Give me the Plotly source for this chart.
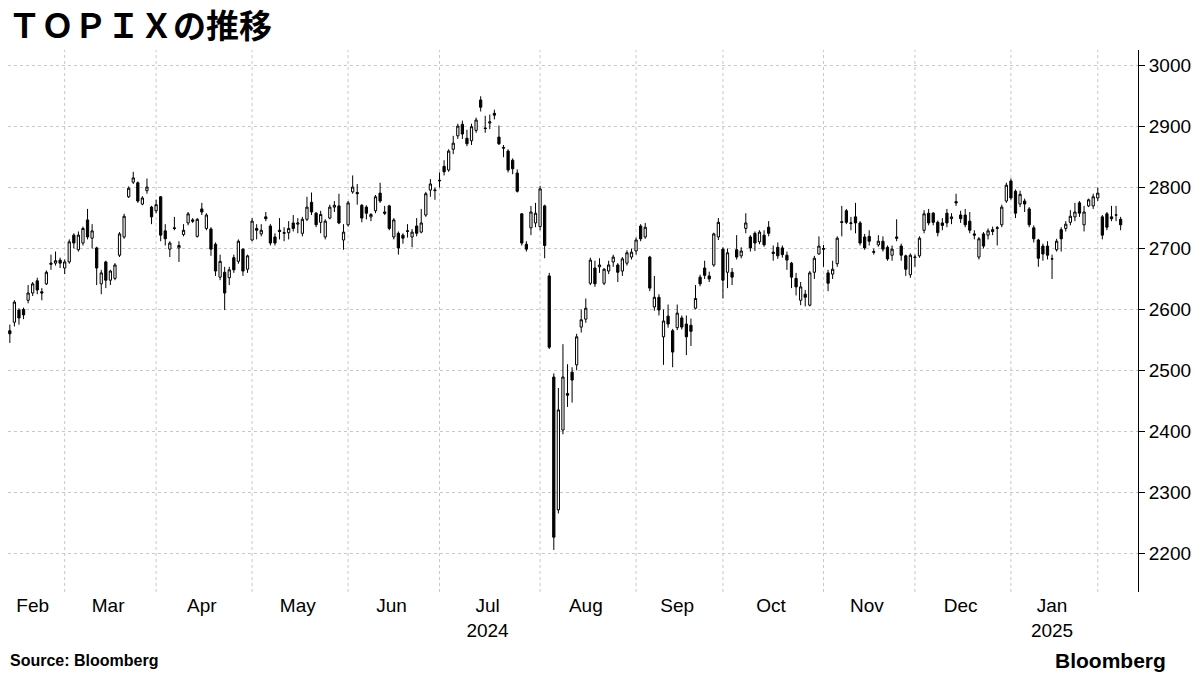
import plotly.graph_objects as go
import pandas as pd

# trading days: weekdays minus Tokyo market holidays
holidays = ["2024-02-12", "2024-02-23", "2024-03-20", "2024-04-29", "2024-05-03",
            "2024-05-06", "2024-07-15", "2024-08-12", "2024-09-16", "2024-09-23",
            "2024-10-14", "2024-11-04", "2024-12-31", "2025-01-01", "2025-01-02",
            "2025-01-03", "2025-01-13"]
days = pd.bdate_range("2024-02-09", "2025-02-10")
days = days[~days.isin(pd.to_datetime(holidays))]

month_names = ["Feb", "Mar", "Apr", "May", "Jun", "Jul<br>2024", "Aug", "Sep",
               "Oct", "Nov", "Dec", "Jan<br>2025", ""]

opens = [
    2555, 2565, 2579, 2599, 2600, 2615, 2627, 2647, 2629, 2642, 2674, 2676, 2681,  # Feb
    2668, 2678, 2722, 2698, 2709, 2747, 2717, 2701, 2642, 2678, 2648, 2651, 2689, 2719,
    2785, 2809, 2808, 2773, 2795, 2768,  # Mar
    2762, 2785, 2729, 2699, 2734, 2701, 2723, 2742, 2747, 2720, 2765, 2733, 2732, 2707,
    2653, 2661, 2652, 2685, 2679, 2699, 2666,  # Apr
    2714, 2733, 2724, 2752, 2737, 2719, 2730, 2725, 2726, 2742, 2740, 2725, 2748, 2776,
    2758, 2743, 2719, 2750, 2768, 2770, 2714,  # May
    2739, 2793, 2792, 2771, 2768, 2752, 2762, 2791, 2760, 2770, 2719, 2725, 2722, 2728,
    2719, 2737, 2727, 2755, 2796, 2795,  # Jun
    2811, 2835, 2829, 2863, 2885, 2904, 2881, 2877, 2894, 2944, 2898, 2906, 2922, 2883,
    2866, 2860, 2845, 2824, 2757, 2707, 2734, 2742,  # Jul
    2736, 2770, 2655, 2489, 2271, 2402, 2462, 2497, 2509, 2571, 2584, 2643, 2668, 2670,
    2643, 2663, 2678, 2673, 2663, 2676, 2686,  # Aug
    2696, 2737, 2719, 2686, 2604, 2620, 2555, 2589, 2565, 2570, 2586, 2576, 2574, 2602,
    2653, 2668, 2655, 2673, 2719,  # Sep
    2699, 2661, 2661, 2698, 2688, 2733, 2719, 2725, 2711, 2722, 2735, 2694, 2702, 2701,
    2689, 2676, 2651, 2615, 2625, 2607, 2661, 2691,  # Oct
    2700, 2660, 2658, 2675, 2744, 2762, 2741, 2752, 2742, 2719, 2720, 2695, 2706, 2712,
    2702, 2689, 2719, 2704, 2688, 2657,  # Nov
    2685, 2688, 2730, 2758, 2758, 2743, 2742, 2758, 2749, 2777, 2755, 2755, 2745, 2724,
    2686, 2724, 2722, 2731, 2733, 2739, 2778,  # Dec
    2811, 2794, 2773, 2778, 2765, 2734, 2714, 2704, 2704, 2683, 2698, 2731, 2733, 2743,
    2752, 2775, 2739, 2770, 2770,  # Jan
    2783, 2752, 2757, 2752, 2755, 2748,  # Feb
]
highs = [
    2568, 2575, 2615, 2602, 2603, 2640, 2645, 2652, 2635, 2664, 2690, 2695, 2685,
    2682, 2715, 2725, 2728, 2736, 2765, 2740, 2703, 2665, 2680, 2665, 2676, 2727, 2757,
    2802, 2826, 2810, 2786, 2815, 2770,
    2780, 2786, 2740, 2712, 2752, 2712, 2740, 2760, 2750, 2750, 2775, 2758, 2735, 2710,
    2690, 2670, 2670, 2690, 2715, 2700, 2690,
    2750, 2740, 2740, 2760, 2740, 2725, 2750, 2735, 2745, 2755, 2750, 2752, 2785, 2792,
    2760, 2762, 2748, 2772, 2778, 2790, 2740,
    2778, 2820, 2806, 2773, 2771, 2758, 2788, 2808, 2770, 2772, 2750, 2728, 2725, 2740,
    2732, 2750, 2765, 2793, 2814, 2800,
    2825, 2845, 2863, 2885, 2905, 2910, 2895, 2905, 2915, 2950, 2918, 2920, 2928, 2902,
    2870, 2863, 2848, 2830, 2758, 2712, 2770, 2775,
    2803, 2772, 2660, 2495, 2471, 2543, 2510, 2505, 2560, 2600, 2618, 2685, 2680, 2684,
    2668, 2680, 2690, 2676, 2686, 2697, 2700,
    2718, 2740, 2742, 2688, 2655, 2625, 2600, 2608, 2568, 2608, 2590, 2590, 2585, 2640,
    2657, 2680, 2662, 2726, 2750,
    2702, 2700, 2668, 2722, 2702, 2758, 2722, 2728, 2730, 2730, 2745, 2705, 2710, 2705,
    2695, 2678, 2660, 2645, 2632, 2663, 2688, 2720,
    2706, 2665, 2680, 2720, 2770, 2765, 2752, 2775, 2745, 2724, 2730, 2700, 2722, 2720,
    2705, 2705, 2748, 2708, 2690, 2692,
    2690, 2720, 2763, 2765, 2760, 2746, 2750, 2765, 2758, 2790, 2762, 2765, 2760, 2730,
    2719, 2727, 2733, 2736, 2737, 2772, 2808,
    2815, 2797, 2795, 2782, 2768, 2738, 2716, 2708, 2712, 2690, 2716, 2735, 2745, 2763,
    2775, 2778, 2770, 2782, 2790,
    2800, 2755, 2760, 2770, 2770, 2752,
]
lows = [
    2548, 2545, 2572, 2575, 2584, 2610, 2622, 2625, 2615, 2640, 2665, 2672, 2668,
    2658, 2675, 2700, 2695, 2705, 2715, 2700, 2640, 2625, 2635, 2640, 2648, 2686, 2716,
    2783, 2806, 2775, 2771, 2790, 2740,
    2758, 2712, 2705, 2686, 2730, 2678, 2720, 2738, 2742, 2718, 2755, 2730, 2688, 2655,
    2648, 2599, 2640, 2660, 2675, 2655, 2660,
    2712, 2715, 2720, 2745, 2705, 2705, 2715, 2712, 2715, 2728, 2725, 2720, 2745, 2755,
    2735, 2725, 2715, 2748, 2760, 2740, 2698,
    2736, 2790, 2772, 2743, 2748, 2745, 2758, 2775, 2755, 2730, 2715, 2690, 2708, 2718,
    2702, 2720, 2725, 2752, 2785, 2780,
    2800, 2820, 2826, 2855, 2880, 2880, 2868, 2870, 2890, 2925, 2890, 2896, 2912, 2870,
    2850, 2825, 2822, 2792, 2705, 2695, 2722, 2735,
    2730, 2684, 2535, 2205, 2265, 2395, 2440, 2447, 2500, 2562, 2578, 2640, 2637, 2660,
    2640, 2658, 2670, 2645, 2655, 2672, 2682,
    2690, 2712, 2716, 2630, 2598, 2590, 2509, 2570, 2505, 2566, 2567, 2525, 2540, 2600,
    2638, 2650, 2645, 2670, 2714,
    2618, 2635, 2640, 2682, 2684, 2725, 2695, 2696, 2707, 2703, 2720, 2680, 2683, 2685,
    2665, 2635, 2623, 2607, 2605, 2605, 2650, 2690,
    2670, 2630, 2650, 2670, 2720, 2740, 2730, 2725, 2705, 2698, 2705, 2690, 2703, 2695,
    2680, 2680, 2712, 2680, 2655, 2652,
    2670, 2685, 2725, 2738, 2738, 2720, 2730, 2735, 2740, 2770, 2742, 2735, 2725, 2715,
    2682, 2700, 2715, 2722, 2705, 2735, 2775,
    2780, 2750, 2768, 2760, 2735, 2710, 2670, 2680, 2682, 2650, 2695, 2695, 2728, 2738,
    2745, 2752, 2728, 2768, 2765,
    2778, 2715, 2730, 2745, 2745, 2730,
]
closes = [
    2562, 2560, 2612, 2586, 2591, 2627, 2642, 2632, 2627, 2661, 2676, 2680, 2676,
    2678, 2711, 2709, 2722, 2733, 2719, 2729, 2668, 2660, 2648, 2663, 2673, 2724, 2753,
    2799, 2816, 2778, 2783, 2801, 2752,
    2772, 2722, 2716, 2709, 2733, 2705, 2730, 2757, 2745, 2748, 2760, 2755, 2699, 2663,
    2679, 2627, 2665, 2665, 2712, 2663, 2688,
    2745, 2730, 2730, 2749, 2709, 2709, 2728, 2726, 2733, 2733, 2742, 2748, 2768, 2760,
    2739, 2756, 2745, 2768, 2771, 2742, 2727,
    2775, 2801, 2790, 2750, 2758, 2756, 2785, 2778, 2758, 2733, 2747, 2701, 2717, 2729,
    2727, 2725, 2742, 2790, 2806, 2796,
    2812, 2826, 2860, 2873, 2901, 2888, 2872, 2900, 2911, 2932, 2897, 2908, 2919, 2872,
    2865, 2829, 2831, 2794, 2709, 2699, 2760, 2758,
    2798, 2705, 2538, 2226, 2435, 2489, 2459, 2484, 2555, 2583, 2602, 2681, 2642, 2673,
    2666, 2673, 2686, 2661, 2683, 2693, 2694,
    2714, 2716, 2735, 2635, 2620, 2599, 2581, 2576, 2530, 2594, 2571, 2555, 2564, 2618,
    2642, 2656, 2650, 2724, 2743,
    2648, 2693, 2653, 2686, 2696, 2742, 2701, 2709, 2727, 2706, 2725, 2692, 2688, 2690,
    2681, 2653, 2637, 2637, 2620, 2660, 2684, 2704,
    2699, 2643, 2666, 2717, 2743, 2743, 2742, 2742, 2709, 2701, 2712, 2694, 2712, 2699,
    2683, 2699, 2717, 2689, 2666, 2689,
    2686, 2717, 2757, 2742, 2743, 2726, 2738, 2742, 2752, 2775, 2749, 2739, 2730, 2722,
    2716, 2704, 2729, 2728, 2734, 2768, 2804,
    2783, 2758, 2789, 2773, 2739, 2716, 2684, 2691, 2689, 2683, 2712, 2716, 2740, 2753,
    2760, 2758, 2760, 2780, 2785,
    2791, 2722, 2735, 2749, 2755, 2739,
]

idx = list(range(len(days)))
month_key = days.to_period("M")
month_first = [i for i in idx if i == 0 or month_key[i] != month_key[i - 1]]
month_mid = []
for k, start in enumerate(month_first):
    end = month_first[k + 1] - 1 if k + 1 < len(month_first) else len(days) - 1
    month_mid.append((start + end) / 2)

fig = go.Figure(go.Candlestick(
    x=idx, open=opens, high=highs, low=lows, close=closes,
    increasing=dict(line=dict(color="black", width=1), fillcolor="white"),
    decreasing=dict(line=dict(color="black", width=1), fillcolor="black"),
    whiskerwidth=0, hoverinfo="skip",
))

for i in month_first[1:]:
    fig.add_shape(type="line", x0=i, x1=i, y0=0, y1=1, xref="x", yref="paper",
                  line=dict(color="#c8c8c8", width=1, dash="dot"), layer="below")

fig.update_layout(
    width=1200, height=675,
    paper_bgcolor="white", plot_bgcolor="white",
    margin=dict(l=0, r=70, t=42, b=91),
    showlegend=False,
    font=dict(family="Liberation Sans, Arial", color="black", size=19),
    title=dict(text="<b>ＴＯＰＩＸの推移</b>", x=0, xanchor="left", y=0.973,
               yanchor="middle", font=dict(size=33, family="Noto Sans CJK JP")),
)
fig.update_xaxes(
    range=[0.6, 247.8], rangeslider_visible=False, showgrid=False, zeroline=False,
    tickmode="array", tickvals=month_mid, ticktext=month_names[:len(month_mid)],
    ticks="", showline=False,
)
fig.update_yaxes(
    side="right", range=[2136, 3026], tickvals=list(range(2200, 3001, 100)),
    showgrid=True, gridcolor="#c8c8c8", griddash="dot", gridwidth=1,
    showline=True, linecolor="black", linewidth=1, ticks="outside", ticklen=6,
    tickcolor="black", zeroline=False,
)

fig.add_annotation(text="<b>Source: Bloomberg</b>", x=0, y=-0.127, xref="paper",
                   yref="paper", xanchor="left", yanchor="middle", showarrow=False,
                   font=dict(size=16, family="Liberation Sans"))
fig.add_annotation(text="<b>Bloomberg</b>", x=1.0265, y=-0.127, xref="paper", yref="paper",
                   xanchor="right", yanchor="middle", showarrow=False,
                   font=dict(size=21, family="Liberation Sans"))

fig.write_html("out.html")
